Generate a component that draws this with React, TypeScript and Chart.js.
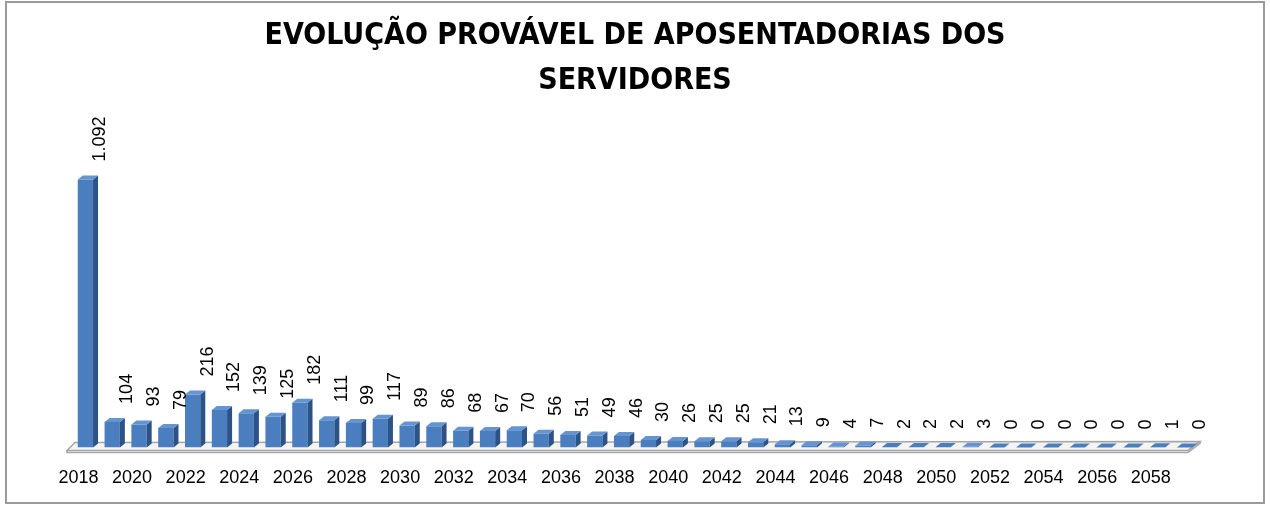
import React, { useEffect, useRef } from 'react';
import { Chart, registerables } from 'chart.js';

Chart.register(...registerables);

const years = [
  '2018', '2019', '2020', '2021', '2022', '2023', '2024', '2025', '2026', '2027',
  '2028', '2029', '2030', '2031', '2032', '2033', '2034', '2035', '2036', '2037',
  '2038', '2039', '2040', '2041', '2042', '2043', '2044', '2045', '2046', '2047',
  '2048', '2049', '2050', '2051', '2052', '2053', '2054', '2055', '2056', '2057',
  '2058', '2059',
];

const aposentadorias = [
  1092, 104, 93, 79, 216, 152, 139, 125, 182, 111,
  99, 117, 89, 86, 68, 67, 70, 56, 51, 49,
  46, 30, 26, 25, 25, 21, 13, 9, 4, 7,
  2, 2, 2, 3, 0, 0, 0, 0, 0, 0,
  1, 0,
];

const titleLines = ['EVOLUÇÃO PROVÁVEL DE APOSENTADORIAS DOS', 'SERVIDORES'];

const FRONT = '#4a7ebe';
const SIDE = '#2c5286';
const TOP = '#6494d2';
const DX = 5;
const DY = 4;

function fmt(n: number): string {
  const s = String(Math.round(n));
  return s.replace(/\B(?=(\d{3})+(?!\d))/g, '.');
}

const bar3d = {
  id: 'bar3d',
  beforeDatasetsDraw(chart: any) {
    const { ctx, chartArea } = chart;
    const b = chartArea.bottom;
    const l = chartArea.left;
    const r = chartArea.right;
    ctx.save();
    ctx.beginPath();
    ctx.moveTo(l - 5, b + 3);
    ctx.lineTo(r - 10, b + 3);
    ctx.lineTo(r + 2, b - 6);
    ctx.lineTo(l + 3, b - 5);
    ctx.closePath();
    ctx.fillStyle = '#f4f4f4';
    ctx.fill();
    ctx.lineWidth = 1.5;
    ctx.strokeStyle = '#a6a6a6';
    ctx.stroke();
    ctx.beginPath();
    ctx.moveTo(l - 5, b + 3);
    ctx.lineTo(l - 5, b + 5);
    ctx.lineTo(r - 10, b + 5);
    ctx.lineTo(r + 2, b - 4);
    ctx.lineTo(r + 2, b - 6);
    ctx.stroke();
    ctx.restore();
  },
  afterDatasetsDraw(chart: any) {
    const { ctx } = chart;
    const meta = chart.getDatasetMeta(0);
    const data = chart.data.datasets[0].data as number[];
    ctx.save();
    meta.data.forEach((el: any, i: number) => {
      const w = el.width;
      const left = el.x - w / 2;
      const right = el.x + w / 2;
      const top = el.y;
      const base = el.base;
      if (base - top > 0.5) {
        ctx.beginPath();
        ctx.moveTo(right, top);
        ctx.lineTo(right + DX, top - DY);
        ctx.lineTo(right + DX, base - DY);
        ctx.lineTo(right, base);
        ctx.closePath();
        ctx.fillStyle = SIDE;
        ctx.fill();
      }
      ctx.beginPath();
      ctx.moveTo(left, top);
      ctx.lineTo(right, top);
      ctx.lineTo(right + DX, top - DY);
      ctx.lineTo(left + DX, top - DY);
      ctx.closePath();
      ctx.fillStyle = base - top > 0.5 ? TOP : FRONT;
      ctx.fill();
      ctx.save();
      ctx.translate(el.x + 15, top - DY - 14);
      ctx.rotate(-Math.PI / 2);
      ctx.font = '18px "Liberation Sans", Arial, sans-serif';
      ctx.fillStyle = '#000';
      ctx.textAlign = 'left';
      ctx.textBaseline = 'middle';
      ctx.fillText(fmt(data[i]), 0, 0);
      ctx.restore();
    });
    ctx.restore();
  },
};

export default function App() {
  const canvasRef = useRef<HTMLCanvasElement | null>(null);

  useEffect(() => {
    if (!canvasRef.current) return;
    const chart = new Chart(canvasRef.current, {
      type: 'bar',
      data: {
        labels: years,
        datasets: [
          {
            data: aposentadorias,
            backgroundColor: FRONT,
            borderWidth: 0,
            barPercentage: 0.57,
            categoryPercentage: 1,
          },
        ],
      },
      options: {
        responsive: true,
        maintainAspectRatio: false,
        animation: false,
        layout: { padding: { left: 72, right: 72, top: 0, bottom: -3 } },
        plugins: {
          legend: { display: false },
          tooltip: { enabled: false },
          title: {
            display: true,
            text: titleLines,
            color: '#000',
            font: {
              family: '"DejaVu Sans Condensed", "DejaVu Sans", sans-serif',
              size: 30,
              weight: 'bold',
              lineHeight: 45 / 30,
            },
            padding: { top: 14, bottom: 0 },
          },
        },
        scales: {
          x: {
            grid: { display: false, drawTicks: false },
            border: { display: false },
            ticks: {
              autoSkip: false,
              maxRotation: 0,
              minRotation: 0,
              padding: 20,
              labelOffset: -7,
              color: '#000',
              font: { family: '"Liberation Sans", Arial, sans-serif', size: 18 },
              callback: function (this: any, v: any, i: number) {
                return i % 2 === 0 ? this.getLabelForValue(v) : '';
              },
            },
          },
          y: { display: false, min: 0, max: 1400 },
        },
      },
      plugins: [bar3d],
    });
    return () => chart.destroy();
  }, []);

  return (
    <div style={{ position: 'absolute', left: 0, top: 0, width: 1270, height: 506, background: '#fff' }}>
      <div
        style={{
          position: 'absolute',
          left: 5,
          top: 1,
          width: 1260,
          height: 503,
          border: '2px solid #9a9a9a',
          boxSizing: 'border-box',
        }}
      />
      <div style={{ position: 'absolute', left: 0, top: 0, width: 1270, height: 506 }}>
        <canvas ref={canvasRef} />
      </div>
    </div>
  );
}
